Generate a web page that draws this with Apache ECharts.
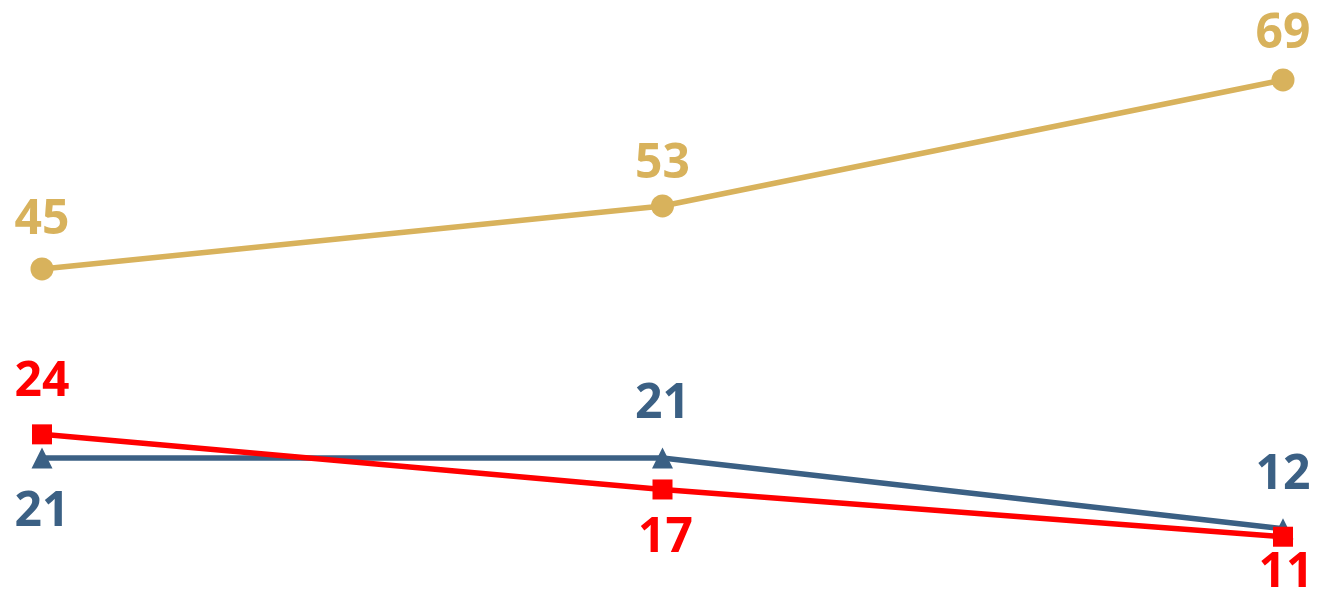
<!DOCTYPE html>
<html>
<head>
<meta charset="utf-8">
<script src="https://cdn.jsdelivr.net/npm/echarts@6/dist/echarts.min.js"></script>
<style>html,body{margin:0;padding:0;background:#fff}#c{width:1317px;height:595px}</style>
</head>
<body>
<div id="c"></div>
<script>
const categories = ['A', 'B', 'C'];
const goldValues = [45, 53, 69];
const blueValues = [21, 21, 12];
const redValues = [24, 17, 11];
const goldLabelOffsets = [[0, -49], [0, -42], [0, -46]];
const blueLabelOffsets = [[0, 54], [0, -54], [0, -54]];
const redLabelOffsets = [[0, -52], [3, 49], [3, 37]];

const font = { fontFamily: 'Open Sans', fontWeight: 'bold', fontSize: 48 };

function mk(name, vals, offs, color, symbol, size) {
  return {
    name, type: 'line', data: vals.map((v, i) => ({
      value: v,
      label: { offset: offs[i] }
    })),
    symbol, symbolSize: size,
    lineStyle: { color, width: 5.5 },
    itemStyle: { color },
    label: Object.assign({ show: true, position: 'inside', color }, font),
    animation: false
  };
}

const chart = echarts.init(document.getElementById('c'));
chart.setOption({
  backgroundColor: '#fff',
  grid: { left: 42, right: 34, top: 72.1, bottom: 50.4 },
  xAxis: { type: 'category', data: categories, boundaryGap: false, show: false },
  yAxis: { type: 'value', min: 10, max: 70, show: false },
  series: [
    mk('gold', goldValues, goldLabelOffsets, '#D8B25C', 'circle', 23),
    mk('blue', blueValues, blueLabelOffsets, '#3B6084', 'triangle', 21),
    mk('red', redValues, redLabelOffsets, '#FF0000', 'rect', 20)
  ]
});
</script>
</body>
</html>
